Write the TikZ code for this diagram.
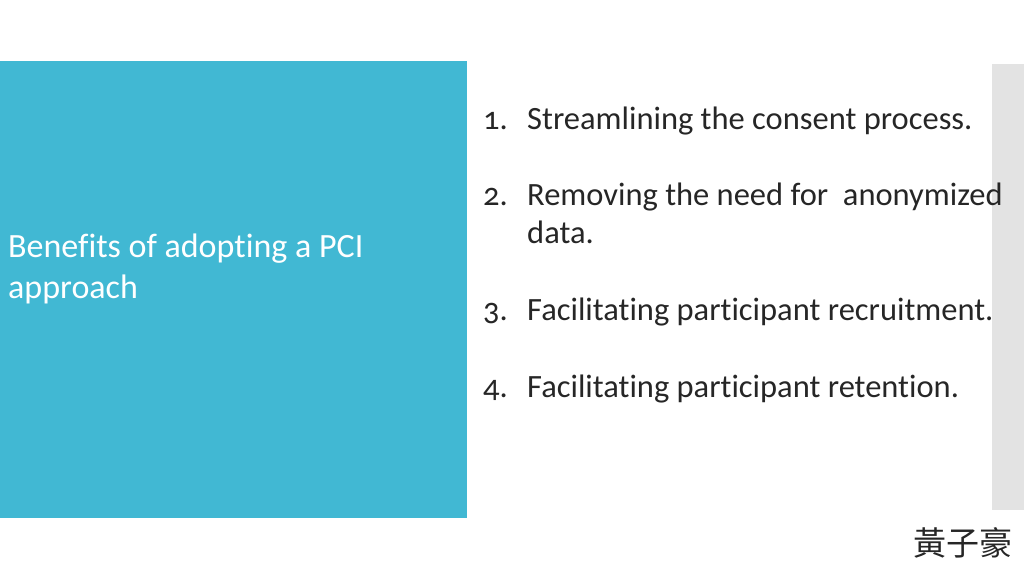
\documentclass[tikz,border=0pt]{standalone}
\usepackage{fontspec}
\setmainfont[Ligatures=NoCommon]{Carlito}
\newfontfamily\oldnum[Numbers=OldStyle]{Carlito}
\newfontfamily\cjk{Noto Sans CJK TC}
\definecolor{teal1}{HTML}{41B8D3}
\definecolor{grey1}{HTML}{E3E3E3}
\begin{document}
\begin{tikzpicture}[x=1pt,y=-1pt,
  txt/.style={anchor=base west,inner sep=0,font=\fontsize{32.5}{38}\selectfont,text=black!85},
  num/.style={txt,font=\oldnum\fontsize{32.5}{38}\selectfont},
  lt/.style={txt,text=white,font=\fontsize{34}{40}\selectfont}]
\useasboundingbox (0,0) rectangle (1024,576);
\fill[teal1] (0,61) rectangle (467,518);
\fill[grey1] (992,64) rectangle (1024,510);
\node[lt] (t1) at (8,257) {Benefits of adopting a PCI};
\node[lt] (t2) at (8,298) {approach};
\node[num] (n1) at (483,129) {1.};
\node[txt] (i1) at (527,129) {Streamlining the consent process.};
\node[num] (n2) at (483,205) {2.};
\node[txt] (i2) at (527,205) {Removing the need for\ \ anonymized};
\node[txt] (i2b) at (527,243) {data.};
\node[num] (n3) at (483,320) {3.};
\node[txt] (i3) at (527,320) {Facilitating participant recruitment.};
\node[num] (n4) at (483,397) {4.};
\node[txt] (i4) at (527,397) {Facilitating participant retention.};
\node[txt,font=\cjk\fontsize{33}{36}\selectfont] (c) at (913,555) {黃子豪};
\end{tikzpicture}
\end{document}
